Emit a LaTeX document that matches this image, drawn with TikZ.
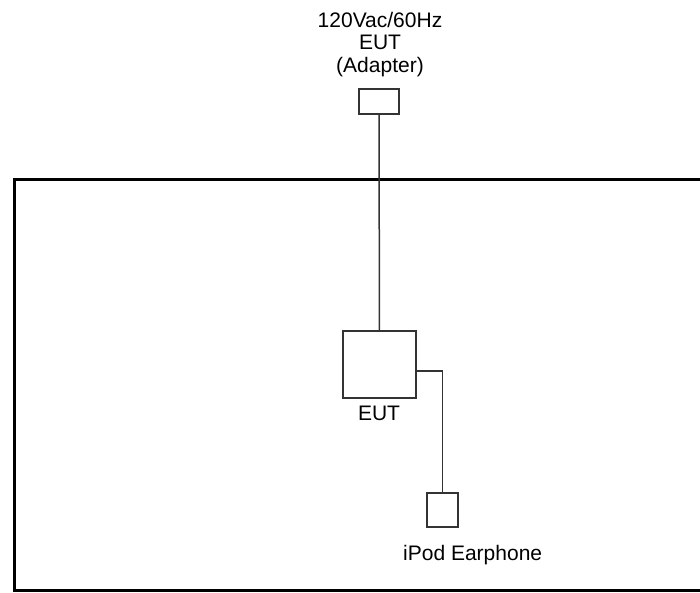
\documentclass[tikz,border=0pt]{standalone}
\usepackage{fontspec}
\setmainfont{Liberation Sans}
\definecolor{boxgray}{RGB}{51,51,51}

\tikzset{
  unit/.style={draw=boxgray, line width=1.5pt, fill=white, inner sep=0pt},
  cable/.style={draw=boxgray, line width=1.5pt},
  lbl/.style={font=\fontsize{21}{22.5}\selectfont, inner sep=0pt, align=center}
}

\begin{document}
\begin{tikzpicture}[x=1pt, y=-1pt]
  \useasboundingbox[fill=white] (0,0) rectangle (700,592);
  % test table outline (open to the right)
  \draw[line width=3pt] (701,179) -| (14,590) -- (701,590);
  % units
  \node[unit, minimum width=40pt, minimum height=25pt] (adapter) at (379,101.5) {};
  \node[unit, minimum width=73pt, minimum height=67pt] (eut) at (379.5,364.5) {};
  \node[unit, minimum width=31pt, minimum height=34pt] (ear) at (442.5,510) {};
  % labels
  \node[lbl, anchor=north] (adptxt) at (380,12) {120Vac/60Hz\\EUT\\(Adapter)};
  \node[lbl, anchor=base] (euttxt) at (379,420.5) {EUT};
  \node[lbl, anchor=base west] (eartxt) at (403,560) {iPod Earphone};
  % cables
  \draw[cable] (adapter) -- (eut);
  \draw[cable] ([yshift=-6.5pt]eut.east) -| (ear);
\end{tikzpicture}
\end{document}
